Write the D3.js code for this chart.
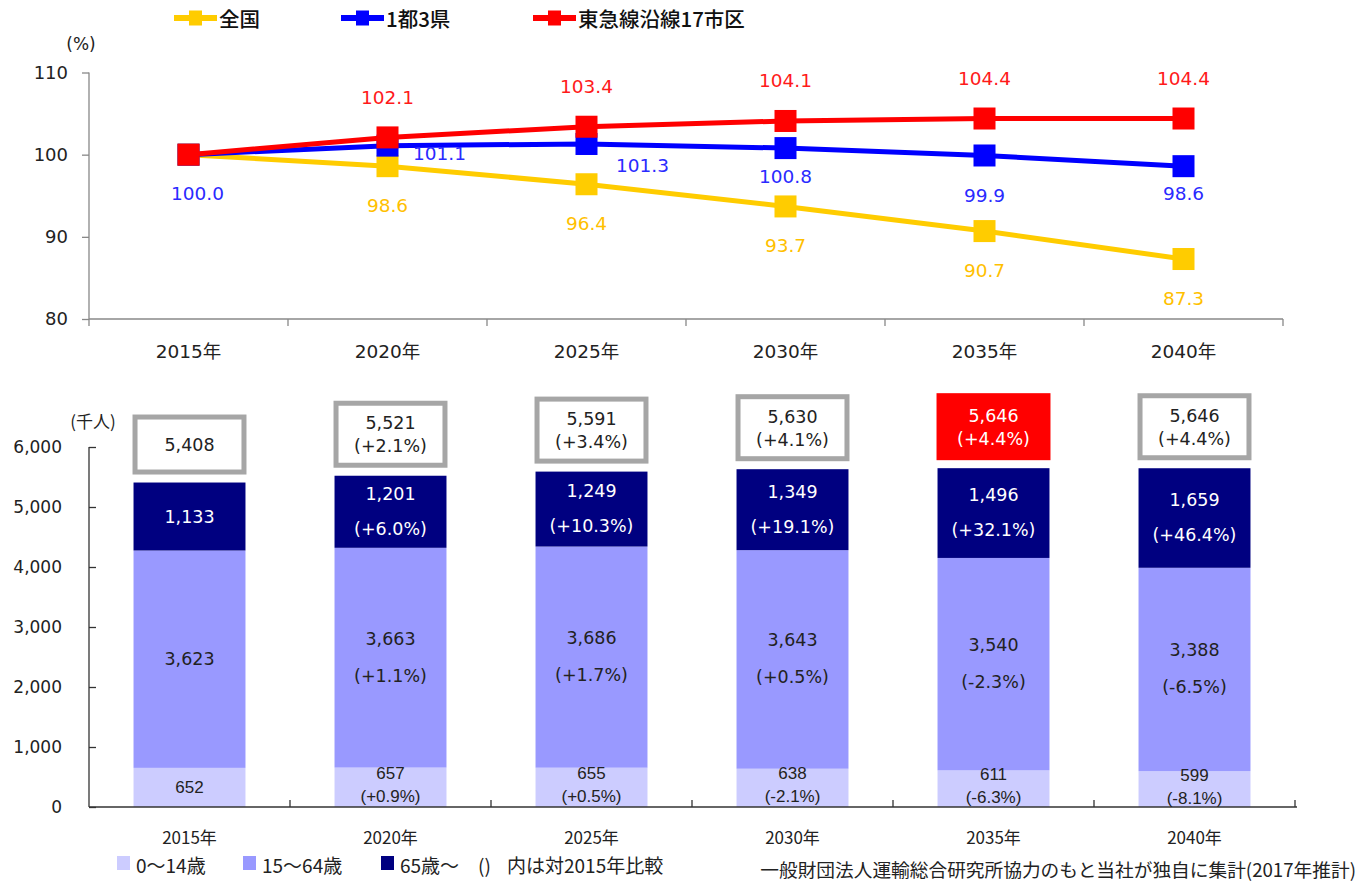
<!DOCTYPE html>
<html><head><meta charset="utf-8">
<script src="https://cdn.jsdelivr.net/npm/d3@7"></script>
<style>
html,body{margin:0;padding:0;background:#fff;}
svg{display:block;}
</style></head>
<body>
<svg id="c" width="1358" height="883"></svg>
<script>
// ---- data ----
const categories = ["2015年","2020年","2025年","2030年","2035年","2040年"];
const seriesNames = ["全国","1都3県","東急線沿線17市区"];
const national = [100.0, 98.6, 96.4, 93.7, 90.7, 87.3];
const capital  = [100.0, 101.1, 101.3, 100.8, 99.9, 98.6];
const tokyu    = [100.0, 102.1, 103.4, 104.1, 104.4, 104.4];
const topTicks = [80, 90, 100, 110];

const age0_14  = [652, 657, 655, 638, 611, 599];
const age15_64 = [3623, 3663, 3686, 3643, 3540, 3388];
const age65    = [1133, 1201, 1249, 1349, 1496, 1659];
const totals   = [5408, 5521, 5591, 5630, 5646, 5646];
const chgTotal = [null, "+2.1%", "+3.4%", "+4.1%", "+4.4%", "+4.4%"];
const chg0_14  = [null, "+0.9%", "+0.5%", "-2.1%", "-6.3%", "-8.1%"];
const chg15_64 = [null, "+1.1%", "+1.7%", "+0.5%", "-2.3%", "-6.5%"];
const chg65    = [null, "+6.0%", "+10.3%", "+19.1%", "+32.1%", "+46.4%"];
const bottomTicks = [0, 1000, 2000, 3000, 4000, 5000, 6000];
const ageNames = ["0〜14歳", "15〜64歳", "65歳〜"];

const NUM = "'DejaVu Sans','Noto Sans CJK JP',sans-serif";
const JP = "'Noto Sans CJK JP',sans-serif";
const fmt = d3.format(",");

const svg = d3.select("#c");
svg.append("rect").attr("width",1358).attr("height",883).attr("fill","#fff");

// ================= TOP CHART =================
const topG = svg.append("g");
const xT = d3.scaleBand().domain(categories).range([89, 1283]);
const yT = d3.scaleLinear().domain([80, 110]).range([319, 72.5]);
const cx = c => xT(c) + xT.bandwidth()/2;

const yAxT = topG.append("g").attr("transform","translate(89,0)")
  .call(d3.axisLeft(yT).tickValues(topTicks).tickSize(7).tickPadding(14).tickFormat(d3.format("d")));
yAxT.selectAll("path,line").attr("stroke","#888").attr("stroke-width",1.3);
yAxT.selectAll("text").attr("font-family",NUM).attr("font-size",18).attr("fill","#222");
yAxT.select(".domain").attr("d","M0,72.5V319");

const xAxT = topG.append("g").attr("transform","translate(0,319)");
xAxT.append("line").attr("x1",89).attr("x2",1283).attr("stroke","#888").attr("stroke-width",1.3);
xAxT.selectAll(".tk").data(d3.range(categories.length+1)).join("line")
  .attr("x1",i=>89+i*xT.step()).attr("x2",i=>89+i*xT.step())
  .attr("y1",0).attr("y2",7).attr("stroke","#888").attr("stroke-width",1.3);
xAxT.selectAll(".lb").data(categories).join("text")
  .attr("x",c=>cx(c)).attr("y",39).attr("text-anchor","middle")
  .attr("font-family",NUM).attr("font-size",18.5).attr("fill","#222").text(d=>d);

topG.append("text").attr("x",81).attr("y",50).attr("text-anchor","middle")
  .attr("font-family",NUM).attr("font-size",17).attr("fill","#222").text("(%)");

const series = [
  {name:seriesNames[0], vals:national, color:"#ffcc00", tcolor:"#ffc000"},
  {name:seriesNames[1], vals:capital,  color:"#0000ff", tcolor:"#2a2aff"},
  {name:seriesNames[2], vals:tokyu,    color:"#ff0000", tcolor:"#ff1a1a"}
];
const line = d3.line().x((d,i)=>cx(categories[i])).y(d=>yT(d));
series.forEach(s=>{
  topG.append("path").datum(s.vals).attr("d",line).attr("fill","none")
    .attr("stroke",s.color).attr("stroke-width",5);
  topG.selectAll(null).data(s.vals).join("rect")
    .attr("x",(d,i)=>cx(categories[i])-11).attr("y",d=>yT(d)-11)
    .attr("width",22).attr("height",22).attr("fill",s.color);
});

function lab(x,y,t,c){
  topG.append("text").attr("x",x).attr("y",y).attr("text-anchor","middle")
    .attr("dominant-baseline","central").attr("font-family",NUM).attr("font-size",18.5)
    .attr("fill",c).text(t);
}
const f1 = d3.format(".1f");
national.forEach((v,i)=>{ if(i>0) lab(cx(categories[i]), yT(v)+39, f1(v), series[0].tcolor); });
tokyu.forEach((v,i)=>{ if(i>0) lab(cx(categories[i]), yT(v)-40, f1(v), series[2].tcolor); });
const capOff = [[9,39],[52,8],[56,22],[0,28],[0,40],[0,27]];
capital.forEach((v,i)=>{ lab(cx(categories[i])+capOff[i][0], yT(v)+capOff[i][1], f1(v), series[1].tcolor); });

// top legend
const legX = [174, 341, 533];
series.forEach((s,i)=>{
  const g = svg.append("g").attr("transform",`translate(${legX[i]},18)`);
  g.append("line").attr("x1",0).attr("x2",43).attr("stroke",s.color).attr("stroke-width",6);
  g.append("rect").attr("x",15).attr("y",-7.5).attr("width",13).attr("height",15).attr("fill",s.color);
  g.append("text").attr("x",45).attr("y",0).attr("dominant-baseline","central")
    .attr("font-family",JP).attr("font-size",20.5).attr("font-weight",500).attr("fill","#111").text(s.name);
});

// ================= BOTTOM CHART =================
const bot = svg.append("g");
const xB = d3.scaleBand().domain(categories).range([89, 1295]).paddingInner(0.443).paddingOuter(0.2215);
const yB = d3.scaleLinear().domain([0, 6000]).range([807, 447]);
const stepB = (1295-89)/categories.length;

const colors = ["#ccccff","#9999ff","#000080"];
const stackData = categories.map((c,i)=>({cat:c, a:age0_14[i], b:age15_64[i], c65:age65[i]}));
const stack = d3.stack().keys(["a","b","c65"])(stackData);

bot.selectAll(".layer").data(stack).join("g").attr("fill",(d,i)=>colors[i])
  .selectAll("rect").data(d=>d).join("rect")
  .attr("x",d=>xB(d.data.cat)).attr("width",xB.bandwidth())
  .attr("y",d=>yB(d[1])).attr("height",d=>yB(d[0])-yB(d[1]));

const yAxB = bot.append("g").attr("transform","translate(89,0)")
  .call(d3.axisRight(yB).tickValues(bottomTicks).tickSize(7).tickFormat(()=>""));
yAxB.selectAll("path,line").attr("stroke","#333").attr("stroke-width",1.3);
yAxB.select(".domain").attr("d","M0,447V807");
bot.selectAll(".ytl").data(bottomTicks).join("text")
  .attr("x",62).attr("y",d=>yB(d)).attr("text-anchor","end").attr("dominant-baseline","central")
  .attr("font-family",NUM).attr("font-size",17).attr("fill","#222").text(d=>fmt(d));
bot.append("text").attr("x",93).attr("y",420).attr("text-anchor","middle").attr("dominant-baseline","central")
  .attr("font-family",JP).attr("font-size",17).attr("fill","#222").text("(千人)");

bot.append("line").attr("x1",89).attr("x2",1297).attr("y1",807).attr("y2",807).attr("stroke","#333").attr("stroke-width",1.3);
bot.selectAll(".xtk").data(d3.range(1,categories.length+1)).join("line")
  .attr("x1",i=>89+i*stepB).attr("x2",i=>89+i*stepB).attr("y1",807).attr("y2",800)
  .attr("stroke","#333").attr("stroke-width",1.3);
bot.selectAll(".xl").data(categories).join("text")
  .attr("x",c=>xB(c)+xB.bandwidth()/2).attr("y",836).attr("text-anchor","middle").attr("dominant-baseline","central")
  .attr("font-family",JP).attr("font-size",17).attr("fill","#222").text(d=>d);

function blab(x,y,t,c,size,fam){
  bot.append("text").attr("x",x).attr("y",y).attr("text-anchor","middle").attr("dominant-baseline","central")
    .attr("font-family",fam||NUM).attr("font-size",size||17.5).attr("fill",c).text(t);
}
const SANS = "'Liberation Sans',Arial,sans-serif";
categories.forEach((c,i)=>{
  const mx = xB(c)+xB.bandwidth()/2;
  const c0 = (yB(0)+yB(age0_14[i]))/2;
  if(chg0_14[i]){ blab(mx,c0-14,fmt(age0_14[i]),"#222",17,SANS); blab(mx,c0+9,"("+chg0_14[i]+")","#222",17,SANS); }
  else blab(mx,c0,fmt(age0_14[i]),"#222",17,SANS);
  const c1 = (yB(age0_14[i])+yB(age0_14[i]+age15_64[i]))/2;
  if(chg15_64[i]){ blab(mx,c1-19,fmt(age15_64[i]),"#222"); blab(mx,c1+18,"("+chg15_64[i]+")","#222"); }
  else blab(mx,c1,fmt(age15_64[i]),"#222");
  const b2 = age0_14[i]+age15_64[i];
  const c2 = (yB(b2)+yB(b2+age65[i]))/2;
  if(chg65[i]){ blab(mx,c2-18,fmt(age65[i]),"#fff"); blab(mx,c2+17,"("+chg65[i]+")","#fff"); }
  else blab(mx,c2,fmt(age65[i]),"#fff");
  const barTop = yB(b2+age65[i]);
  const h = chgTotal[i] ? 67 : 60;
  const bx = xB(c), bw = xB.bandwidth();
  const by = barTop - 8 - h;
  const hi = (i===4);
  if(hi){
    bot.append("rect").attr("x",bx-1).attr("y",by).attr("width",bw+2).attr("height",h).attr("fill","#ff0000");
  } else {
    bot.append("rect").attr("x",bx+1.5).attr("y",by+2.5).attr("width",bw-3).attr("height",h-5)
      .attr("fill","#fff").attr("stroke","#a6a6a6").attr("stroke-width",5);
  }
  const tc = hi ? "#fff" : "#222";
  const bc = by + h/2;
  if(chgTotal[i]){ blab(mx,bc-11,fmt(totals[i]),tc); blab(mx,bc+12,"("+chgTotal[i]+")",tc); }
  else blab(mx,bc,fmt(totals[i]),tc);
});

const legB = [{x:117,t:ageNames[0],c:colors[0]},{x:243,t:ageNames[1],c:colors[1]},{x:381,t:ageNames[2],c:colors[2]}];
legB.forEach(l=>{
  svg.append("rect").attr("x",l.x).attr("y",856).attr("width",13).attr("height",14).attr("fill",l.c);
  svg.append("text").attr("x",l.x+19).attr("y",864).attr("dominant-baseline","central")
    .attr("font-family",JP).attr("font-size",19).attr("fill","#222").text(l.t);
});
const note = svg.append("text").attr("y",864).attr("dominant-baseline","central")
  .attr("font-family",JP).attr("font-size",19).attr("fill","#222");
note.append("tspan").attr("x",478).text("()");
note.append("tspan").attr("x",507).text("内は対2015年比較");
svg.append("text").attr("x",1356).attr("y",868).attr("text-anchor","end").attr("dominant-baseline","central")
  .attr("font-family",JP).attr("font-size",18.7).attr("fill","#222").text("一般財団法人運輸総合研究所協力のもと当社が独自に集計(2017年推計)");
</script>
</body></html>
